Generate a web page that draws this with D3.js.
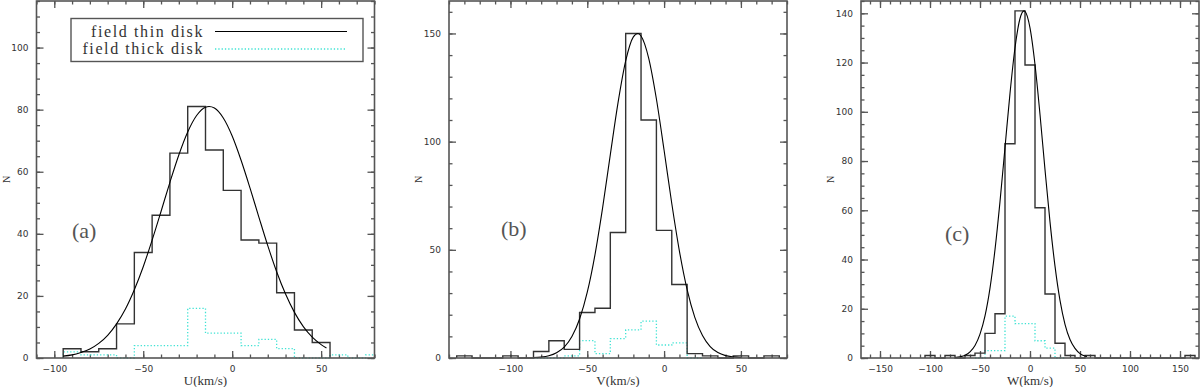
<!DOCTYPE html>
<html>
<head>
<meta charset="utf-8">
<script src="https://cdn.jsdelivr.net/npm/d3@7"></script>
<style>
body { margin: 0; background: #fff; }
svg { display: block; }
.tick text { font-family: "DejaVu Sans", sans-serif; font-size: 9px; fill: #333; }
.axis-title { font-family: "Liberation Serif", serif; font-size: 13px; fill: #333; }
.panel-tag { font-family: "Liberation Serif", serif; font-size: 22px; fill: #555; }
.legend-text { font-family: "Liberation Serif", serif; font-size: 16px; fill: #333; letter-spacing: 1.6px; }
</style>
</head>
<body>
<svg id="chart" width="1200" height="387"></svg>
<script>
// ---- data ----
// (a) U velocity, bins are 10 km/s wide, values are left bin edges
let uBins = [-95, -85, -75, -65, -55, -45, -35, -25, -15, -5, 5, 15, 25, 35, 45];
let uThin = [3, 2, 3, 11, 34, 46, 66, 81, 67, 54, 38, 37, 21, 9, 5];
let uThickBins = [-95, -85, -75, -65, -55, -45, -35, -25, -15, -5, 5, 15, 25, 35, 45, 55, 65, 75];
let uThick = [2, 1, 1, 0, 4, 4, 4, 16, 8, 8, 4, 6, 3, 0, 0, 1, 0, 1];
let uFitX = [-95, -90, -85, -80, -75, -70, -65, -60, -55, -50, -45, -40, -35, -30, -25, -20, -15, -13, -10, -5, 0, 5, 10, 15, 20, 25, 30, 35, 40, 45, 50, 53];
let uFitN = [0.6, 1.0, 1.8, 2.9, 4.7, 7.3, 11.0, 15.8, 22.0, 29.4, 38.0, 47.2, 56.6, 65.4, 72.8, 78.1, 80.8, 81.0, 80.5, 77.3, 71.5, 63.7, 54.8, 45.4, 36.2, 27.8, 20.6, 14.7, 10.1, 6.7, 4.3, 3.2];
let uTicks = [-100, -50, 0, 50];

// (b) V velocity
let vBins = [-135, -125, -115, -105, -95, -85, -75, -65, -55, -45, -35, -25, -15, -5, 5, 15, 25, 35, 45, 55, 65];
let vThin = [1, 0, 0, 1, 0, 3, 8, 4, 21, 23, 58, 150, 110, 59, 34, 2, 1, 0, 1, 0, 1];
let vThickBins = [-85, -75, -65, -55, -45, -35, -25, -15, -5, 5, 15];
let vThick = [0, 0, 1, 8, 2, 9, 13, 17, 6, 7, 0];
let vFitX = [-85, -80, -75, -70, -65, -60, -55, -50, -45, -40, -35, -30, -25, -20, -17, -15, -10, -5, 0, 5, 10, 15, 20, 25, 30, 35, 40, 45, 50];
let vFitN = [0.2, 0.4, 1.0, 2.4, 5.0, 9.9, 18.0, 30.4, 47.7, 69.5, 94.0, 117.9, 137.3, 148.4, 150.0, 148.8, 138.5, 119.7, 96.0, 71.4, 49.3, 31.6, 18.8, 10.4, 5.3, 2.5, 1.1, 0.5, 0.2];
let vTicks = [-100, -50, 0, 50];

// (c) W velocity
let wBins = [-105, -95, -85, -75, -65, -55, -45, -35, -25, -15, -5, 5, 15, 25, 35, 45, 55, 65, 75, 85, 95, 105, 115, 125, 135, 145, 155];
let wThin = [1, 0, 1, 0, 1, 2, 10, 18, 87, 141, 119, 61, 26, 6, 1, 0, 1, 0, 0, 0, 0, 0, 0, 0, 0, 0, 1];
let wThickBins = [-55, -45, -35, -25, -15, -5, 5, 15, 25];
let wThick = [0, 3, 3, 17, 14, 14, 7, 4, 0];
let wFitX = [-75, -70, -65, -60, -55, -50, -45, -40, -35, -30, -25, -20, -15, -10, -6, -5, 0, 5, 10, 15, 20, 25, 30, 35, 40, 45, 50, 55, 57];
let wFitN = [0.2, 0.5, 1.1, 2.5, 5.1, 9.7, 17.1, 28.4, 44.0, 63.5, 85.5, 107.5, 126.0, 137.9, 141.0, 140.8, 134.1, 119.2, 98.9, 76.5, 55.3, 37.3, 23.4, 13.7, 7.5, 3.9, 1.8, 0.8, 0.6];
let wTicks = [-150, -100, -50, 0, 50, 100, 150];

let binWidth = 10;
let legendLabels = ["field thin disk", "field thick disk"];

// ---- layout / style ----
let plotTop = 1, plotBottom = 358, plotW = 338;
let axisColor = '#555';
let thinColor = '#333';
let thickColor = '#3fe3d4';
let majorLen = 7, minorLen = 3.5;

let panels = [
    { left: 36.5, xDomain: [-110, 80], yDomain: [0, 115], yMajor: 20, yMinor: 5, xTicks: uTicks,
      bins: uBins, thin: uThin, thickBins: uThickBins, thick: uThick, fitX: uFitX, fitN: uFitN,
      xTitle: "U(km/s)", tag: "(a)", tagX: 72, tagY: 238 },
    { left: 449, xDomain: [-140, 80], yDomain: [0, 165], yMajor: 50, yMinor: 10, xTicks: vTicks,
      bins: vBins, thin: vThin, thickBins: vThickBins, thick: vThick, fitX: vFitX, fitN: vFitN,
      xTitle: "V(km/s)", tag: "(b)", tagX: 501, tagY: 236 },
    { left: 861, xDomain: [-169, 169], yDomain: [0, 145], yMajor: 20, yMinor: 5, xTicks: wTicks,
      bins: wBins, thin: wThin, thickBins: wThickBins, thick: wThick, fitX: wFitX, fitN: wFitN,
      xTitle: "W(km/s)", tag: "(c)", tagX: 945, tagY: 241 }
];

let svg = d3.select("#chart");
let defs = svg.append("defs");
let fmt = d3.format("d");

function stepPoints(edges, counts) {
    let pts = [[edges[0], 0]];
    edges.forEach((e, i) => {
        pts.push([e, counts[i]]);
        pts.push([e + binWidth, counts[i]]);
    });
    pts.push([edges[edges.length - 1] + binWidth, 0]);
    return pts;
}

function drawPanel(p, k) {
    let g = svg.append("g");
    let x = d3.scaleLinear().domain(p.xDomain).range([p.left, p.left + plotW]);
    let y = d3.scaleLinear().domain(p.yDomain).range([plotBottom, plotTop]);

    // keep the marks inside the frame
    defs.append("clipPath").attr("id", "clip" + k)
        .append("rect")
        .attr("x", p.left).attr("y", plotTop - 2)
        .attr("width", plotW).attr("height", plotBottom - plotTop + 4);

    let xMinor = d3.range(Math.ceil(p.xDomain[0] / 10) * 10, p.xDomain[1] + 0.1, 10);
    let yMajor = d3.range(0, p.yDomain[1] + 0.1, p.yMajor);
    let yMinor = d3.range(0, p.yDomain[1] + 0.1, p.yMinor);

    // axes, ticks pointing inward
    function axis(gen, scale, values, len, labels, pos) {
        let a = g.append("g")
            .attr("transform", pos)
            .call(gen(scale).tickValues(values).tickSize(-len).tickPadding(labels ? 8 : 0)
                .tickFormat(labels ? d => fmt(d) : ""));
        a.select(".domain").remove();
        a.selectAll(".tick line").attr("stroke", axisColor).attr("stroke-width", 1.3);
        return a;
    }
    axis(d3.axisBottom, x, p.xTicks, majorLen, true, `translate(0,${plotBottom})`);
    axis(d3.axisBottom, x, xMinor, minorLen, false, `translate(0,${plotBottom})`);
    axis(d3.axisTop, x, p.xTicks, majorLen, false, `translate(0,${plotTop})`);
    axis(d3.axisTop, x, xMinor, minorLen, false, `translate(0,${plotTop})`);
    axis(d3.axisLeft, y, yMajor, majorLen, true, `translate(${p.left},0)`);
    axis(d3.axisLeft, y, yMinor, minorLen, false, `translate(${p.left},0)`);
    axis(d3.axisRight, y, yMajor, majorLen, false, `translate(${p.left + plotW},0)`);
    axis(d3.axisRight, y, yMinor, minorLen, false, `translate(${p.left + plotW},0)`);

    let line = d3.line().x(d => x(d[0])).y(d => y(d[1]));
    let marks = g.append("g").attr("clip-path", `url(#clip${k})`);

    // thick disk histogram (dotted)
    marks.append("path")
        .attr("d", line(stepPoints(p.thickBins, p.thick)))
        .attr("fill", "none")
        .attr("stroke", thickColor)
        .attr("stroke-width", 1.3)
        .attr("stroke-dasharray", "1.3,2");

    // thin disk histogram
    marks.append("path")
        .attr("d", line(stepPoints(p.bins, p.thin)))
        .attr("fill", "none")
        .attr("stroke", thinColor)
        .attr("stroke-width", 1.4);

    // gaussian fit
    let curve = d3.line().x(d => x(d[0])).y(d => y(d[1])).curve(d3.curveMonotoneX);
    marks.append("path")
        .attr("d", curve(p.fitX.map((v, i) => [v, p.fitN[i]])))
        .attr("fill", "none")
        .attr("stroke", "#000")
        .attr("stroke-width", 1.1);

    // frame
    g.append("rect")
        .attr("x", p.left).attr("y", plotTop)
        .attr("width", plotW).attr("height", plotBottom - plotTop)
        .attr("fill", "none")
        .attr("stroke", axisColor)
        .attr("stroke-width", 1.6);

    // titles
    g.append("text")
        .attr("class", "axis-title")
        .attr("x", p.left + plotW / 2)
        .attr("y", 385)
        .attr("text-anchor", "middle")
        .text(p.xTitle);
    g.append("text")
        .attr("class", "axis-title")
        .attr("transform", `translate(${p.left - 27},${(plotTop + plotBottom) / 2}) rotate(-90)`)
        .attr("text-anchor", "middle")
        .style("font-size", "10px")
        .text("N");
    g.append("text")
        .attr("class", "panel-tag")
        .attr("x", p.tagX)
        .attr("y", p.tagY)
        .text(p.tag);
}

panels.forEach(drawPanel);

// legend in panel (a)
let legend = svg.append("g");
legend.append("rect")
    .attr("x", 71).attr("y", 18.5)
    .attr("width", 292).attr("height", 43)
    .attr("fill", "#fff")
    .attr("stroke", axisColor)
    .attr("stroke-width", 1.4);
legendLabels.forEach((lab, i) => {
    let ly = 31.5 + i * 17.5;
    legend.append("text")
        .attr("class", "legend-text")
        .attr("x", 204)
        .attr("y", ly + 5)
        .attr("text-anchor", "end")
        .text(lab);
    legend.append("line")
        .attr("x1", 215).attr("x2", 347)
        .attr("y1", ly).attr("y2", ly)
        .attr("stroke", i == 0 ? "#000" : thickColor)
        .attr("stroke-width", i == 0 ? 1.2 : 1.3)
        .attr("stroke-dasharray", i == 0 ? null : "1.3,2");
});
</script>
</body>
</html>
